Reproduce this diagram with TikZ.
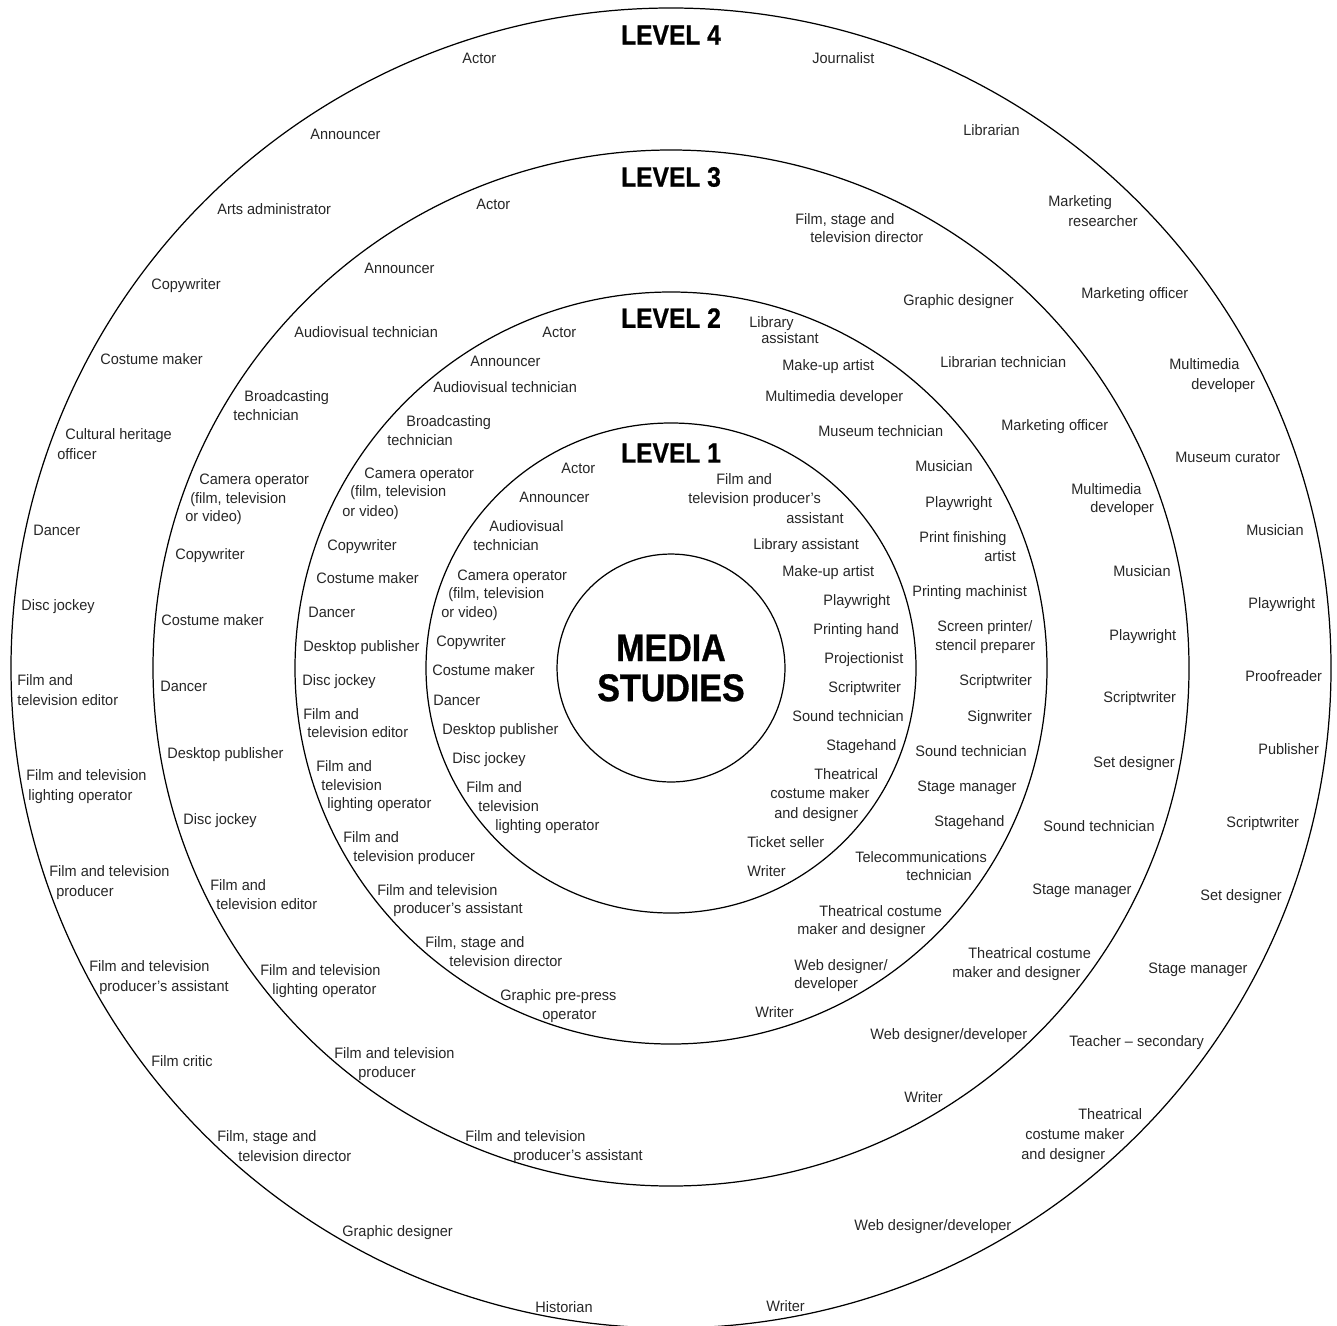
\documentclass[tikz,border=0pt]{standalone}
\usepackage{fontspec}
\setmainfont[FakeStretch=0.96]{Liberation Sans}
\newfontfamily\headfont[FakeStretch=0.88,BoldFeatures={FakeBold=0.8}]{Liberation Sans}
\usepackage{tikz}

\begin{document}
\begin{tikzpicture}[x=0.02cm,y=-0.02cm,
  job/.style={anchor=mid west,inner sep=0pt,text=black!85,font=\fontsize{8.6}{10}\selectfont},
  lvl/.style={inner sep=0pt,font=\headfont\bfseries\fontsize{15.9}{16}\selectfont},
  ring/.style={line width=0.7pt}]
\useasboundingbox (0,0) rectangle (1337,1325);

\node[circle,draw,line width=0.7pt,minimum size=4.56cm,align=center,
  font=\headfont\bfseries\fontsize{22}{22.8}\selectfont] (core) at (671,668) {MEDIA\\STUDIES};
\foreach \r in {245,376,518,660}
  \draw[ring] (core.center) circle[radius=\r];
\foreach \n/\y in {1/453,2/318,3/177,4/35}
  \node[lvl] (level\n) at (671,\y) {LEVEL \n};

% level 1
\foreach \x/\y/\t [count=\i] in {561/469/Actor, 716/480/Film and, 688/499/television producer’s,
  786/519/assistant, 519/498/Announcer, 489/527/Audiovisual, 473/546/technician,
  753/545/Library assistant, 457/576/Camera operator, 448/594/{(film, television}, 441/613/or video),
  782/572/Make-up artist, 823/601/Playwright, 436/642/Copywriter, 813/630/Printing hand,
  432/671/Costume maker, 824/659/Projectionist, 433/701/Dancer, 828/688/Scriptwriter,
  442/730/Desktop publisher, 792/717/Sound technician, 452/759/Disc jockey, 826/746/Stagehand,
  466/788/Film and, 478/807/television, 495/826/lighting operator, 814/775/Theatrical,
  770/794/costume maker, 774/814/and designer, 747/843/Ticket seller, 747/872/Writer}
  \node[job] (a\i) at (\x,\y) {\t};

% level 2
\foreach \x/\y/\t [count=\i] in {542/333/Actor, 749/323/Library, 761/339/assistant,
  470/362/Announcer, 782/366/Make-up artist, 433/388/Audiovisual technician,
  765/397/Multimedia developer, 406/422/Broadcasting, 387/441/technician,
  818/432/Museum technician, 364/474/Camera operator, 350/492/{(film, television},
  342/512/or video), 915/467/Musician, 925/503/Playwright, 327/546/Copywriter,
  919/538/Print finishing, 984/557/artist, 316/579/Costume maker, 912/592/Printing machinist,
  308/613/Dancer, 937/627/{Screen printer/}, 935/646/stencil preparer, 303/647/Desktop publisher,
  959/681/Scriptwriter, 302/681/Disc jockey, 967/717/Signwriter, 303/715/Film and,
  307/733/television editor, 915/752/Sound technician, 316/767/Film and, 321/786/television,
  327/804/lighting operator, 917/787/Stage manager, 343/838/Film and,
  353/857/television producer, 934/822/Stagehand, 377/891/Film and television,
  393/909/producer’s assistant, 855/858/Telecommunications, 906/876/technician,
  425/943/{Film, stage and}, 449/962/television director, 819/912/Theatrical costume,
  797/930/maker and designer, 500/996/Graphic pre-press, 542/1015/operator,
  794/966/{Web designer/}, 794/984/developer, 755/1013/Writer}
  \node[job] (b\i) at (\x,\y) {\t};

% level 3
\foreach \x/\y/\t [count=\i] in {476/205/Actor, 795/220/{Film, stage and},
  810/238/television director, 364/269/Announcer, 903/301/Graphic designer,
  294/333/Audiovisual technician, 940/363/Librarian technician, 244/397/Broadcasting,
  233/416/technician, 1001/426/Marketing officer, 199/480/Camera operator,
  190/499/{(film, television}, 185/517/or video), 1071/490/Multimedia, 1090/508/developer,
  175/555/Copywriter, 1113/572/Musician, 161/621/Costume maker, 1109/636/Playwright,
  160/687/Dancer, 1103/698/Scriptwriter, 167/754/Desktop publisher, 1093/763/Set designer,
  183/820/Disc jockey, 1043/827/Sound technician, 210/886/Film and, 216/905/television editor,
  1032/890/Stage manager, 260/971/Film and television, 272/990/lighting operator,
  968/954/Theatrical costume, 952/973/maker and designer, 334/1054/Film and television,
  358/1073/producer, 870/1035/{Web designer/developer}, 465/1137/Film and television,
  513/1156/producer’s assistant, 904/1098/Writer}
  \node[job] (c\i) at (\x,\y) {\t};

% level 4
\foreach \x/\y/\t [count=\i] in {462/59/Actor, 812/59/Journalist, 310/135/Announcer,
  963/131/Librarian, 217/210/Arts administrator, 1048/202/Marketing, 1068/222/researcher,
  151/285/Copywriter, 1081/294/Marketing officer, 100/360/Costume maker, 1169/365/Multimedia,
  1191/385/developer, 65/435/Cultural heritage, 57/455/officer, 1175/458/Museum curator,
  33/531/Dancer, 1246/531/Musician, 21/606/Disc jockey, 1248/604/Playwright, 17/681/Film and,
  17/701/television editor, 1245/677/Proofreader, 26/776/Film and television,
  28/796/lighting operator, 1258/750/Publisher, 49/872/Film and television, 56/892/producer,
  1226/823/Scriptwriter, 89/967/Film and television, 99/987/producer’s assistant,
  1200/896/Set designer, 151/1062/Film critic, 1148/969/Stage manager,
  217/1137/{Film, stage and}, 238/1157/television director, 1069/1042/Teacher – secondary,
  1078/1115/Theatrical, 1025/1135/costume maker, 1021/1155/and designer,
  342/1232/Graphic designer, 854/1226/{Web designer/developer}, 535/1308/Historian,
  766/1307/Writer}
  \node[job] (d\i) at (\x,\y) {\t};
\end{tikzpicture}
\end{document}
